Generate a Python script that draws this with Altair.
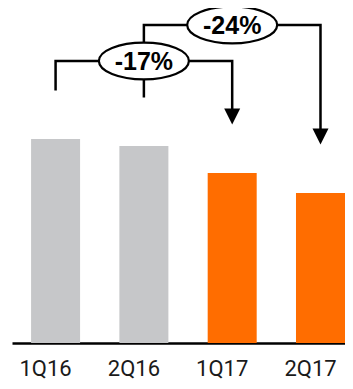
import altair as alt
import pandas as pd

# ---- data ----
quarters = ["1Q16", "2Q16", "1Q17", "2Q17"]
values = [2.04, 1.97, 1.70, 1.50]
years = ["2016", "2016", "2017", "2017"]

change_labels = ["-17%", "-24%"]
change_from = ["1Q16", "2Q16"]
change_to = ["1Q17", "2Q17"]
change_mid = ["2Q16", "1Q17"]
bracket_levels = [2.82, 3.18]

GAP = 0.485    # space between bar top and bracket leg end
ARROW = 0.12   # line stops inside the arrow head

val = dict(zip(quarters, values))
bars = pd.DataFrame({"q": quarters, "v": values, "year": years})

rows = []
for i, lab in enumerate(change_labels):
    a, b, lvl = change_from[i], change_to[i], bracket_levels[i]
    pts = [(a, val[a] + GAP), (a, lvl), (b, lvl), (b, val[b] + GAP + ARROW)]
    for k, (q, y) in enumerate(pts):
        rows.append({"bracket": lab, "order": k, "q": q, "y": y})
lines = pd.DataFrame(rows)
arrows = pd.DataFrame({"q": change_to, "y": [val[q] + GAP for q in change_to]})
labels = pd.DataFrame({"q": change_mid, "y": bracket_levels, "t": change_labels})

xscale = alt.Scale(domain=quarters, paddingInner=0.445, paddingOuter=0.108, align=1)
yscale = alt.Scale(domain=[0, 3.35], nice=False, zero=True)

x_enc = alt.X(
    "q:N", sort=quarters, scale=xscale, title=None,
    axis=alt.Axis(
        ticks=False, grid=False, labelAngle=0, domainColor="black", domainWidth=2.5,
        labelFont="Roboto", labelFontSize=22, labelColor="#1a1a1a",
        labelBaseline="alphabetic", labelPadding=32, labelOffset=-10,
    ),
)
y_enc = alt.Y("y:Q", scale=yscale, axis=None)

bar_layer = alt.Chart(bars).mark_bar().encode(
    x=x_enc,
    y=alt.Y("v:Q", scale=yscale, axis=None),
    color=alt.Color("year:N", scale=alt.Scale(domain=["2016", "2017"], range=["#C6C7C9", "#FF6D00"]), legend=None),
)

line_layer = alt.Chart(lines).mark_line(
    color="black", strokeWidth=2.5, strokeCap="butt", strokeJoin="miter"
).encode(x=x_enc, y=y_enc, detail="bracket:N", order="order:Q")

arrow_layer = alt.Chart(arrows).mark_point(
    shape="M-1,-2L1,-2L0,0Z", size=256, filled=True, color="black", opacity=1, strokeWidth=0
).encode(x=x_enc, y=y_enc)

ellipse_path = "M-1,0A1,0.41 0 1,1 1,0A1,0.41 0 1,1 -1,0Z"
ellipse_layer = alt.Chart(labels).mark_point(
    shape=ellipse_path, size=8100, filled=True, fill="white", stroke="black",
    strokeWidth=2.2, opacity=1
).encode(x=x_enc, y=y_enc)

text_layer = alt.Chart(labels).mark_text(
    font="Liberation Sans", fontWeight="bold", fontSize=25, color="black",
    align="center", baseline="middle", dy=1
).encode(x=x_enc, y=y_enc, text="t:N")

chart = (
    alt.layer(bar_layer, line_layer, arrow_layer, ellipse_layer, text_layer)
    .properties(
        width=333, height=335,
        autosize=alt.AutoSizeParams(type="none"),
        padding={"left": 4, "top": 0, "right": 0, "bottom": 38},
    )
    .configure_view(stroke=None)
)

chart.save("out.html", embed_options={"renderer": "svg", "actions": False})
